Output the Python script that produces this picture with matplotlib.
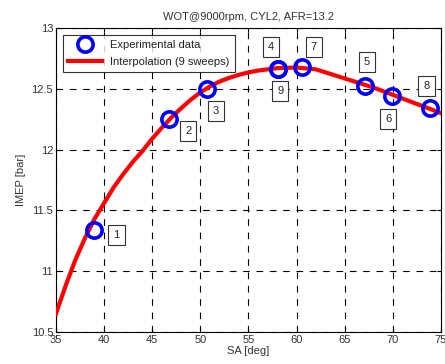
import matplotlib
matplotlib.use("Agg")
import matplotlib.pyplot as plt

plt.rcParams['font.family'] = ['Liberation Sans', 'DejaVu Sans']

# Experimental data (sweep number, SA [deg], IMEP [bar])
sweep_ids = ["1", "2", "3", "4", "5", "6", "7", "8", "9"]
sa_exp = [38.9, 46.7, 50.7, 58.1, 67.1, 69.9, 60.6, 73.9, 58.1]
imep_exp = [11.34, 12.25, 12.50, 12.66, 12.52, 12.44, 12.68, 12.34, 12.66]

# Label box positions (data coords)
label_x = [41.3, 48.75, 51.6, 57.3, 67.3, 69.5, 61.8, 73.5, 58.3]
label_y = [11.30, 12.15, 12.32, 12.84, 12.72, 12.25, 12.84, 12.52, 12.48]

# Interpolation curve
sa_fit = [35, 36, 37, 38, 39, 40, 41, 42, 43, 44, 45, 46, 47, 48, 49, 50, 51,
          52, 53, 54, 55, 56, 58, 60, 62, 64, 66, 68, 70, 72, 74, 75]
imep_fit = [10.65, 10.88, 11.09, 11.27, 11.43, 11.56, 11.69, 11.80, 11.90,
            11.99, 12.09, 12.18, 12.265, 12.34, 12.41, 12.47, 12.52, 12.56,
            12.59, 12.615, 12.635, 12.65, 12.67, 12.675, 12.66, 12.61, 12.56,
            12.51, 12.45, 12.39, 12.33, 12.30]

xticks = [35, 40, 45, 50, 55, 60, 65, 70, 75]
yticks = [10.5, 11, 11.5, 12, 12.5, 13]
ytick_labels = ["10.5", "11", "11.5", "12", "12.5", "13"]

fig = plt.figure(figsize=(4.45, 3.64), dpi=100)
ax = fig.add_axes([0.1258, 0.0879, 0.8652, 0.8352])

ax.plot(sa_exp, imep_exp, 'o', mfc='none', mec='#0000ff', mew=2.6, ms=11,
        label='Experimental data', zorder=4)
ax.plot(sa_fit, imep_fit, '-', color='#ff0000', lw=3,
        label='Interpolation (9 sweeps)', zorder=3)

for t, x, y in zip(sweep_ids, label_x, label_y):
    ax.text(x, y, t, ha='center', va='center', fontsize=8, color='#222222',
            bbox=dict(boxstyle='square,pad=0.45', fc='white', ec='#333333', lw=0.8),
            zorder=5)

ax.set_xlim(35, 75)
ax.set_ylim(10.5, 13)
ax.set_xticks(xticks)
ax.set_yticks(yticks)
ax.set_yticklabels(ytick_labels)
ax.tick_params(direction='in', top=True, right=True, labelsize=8,
               labelcolor='#333333', length=3, width=0.8, pad=2)
ax.grid(True, color='black', linestyle=(0, (6, 6)), lw=0.8)
for s in ax.spines.values():
    s.set_linewidth(0.8)

ax.set_xlabel('SA [deg]', fontsize=8, color='#333333', labelpad=1)
ax.set_ylabel('IMEP [bar]', fontsize=8, color='#333333', labelpad=4)
ax.set_title('WOT@9000rpm, CYL2, AFR=13.2', fontsize=8, color='#333333', pad=6)

leg = ax.legend(loc='upper left', fontsize=8, frameon=True, fancybox=False,
                edgecolor='black', borderaxespad=0.6, handlelength=3.0,
                handletextpad=0.75, labelspacing=0.6, borderpad=0.5)
leg.get_frame().set_linewidth(0.8)
for txt in leg.get_texts():
    txt.set_color('#222222')

fig.savefig('out.png', dpi=100)
